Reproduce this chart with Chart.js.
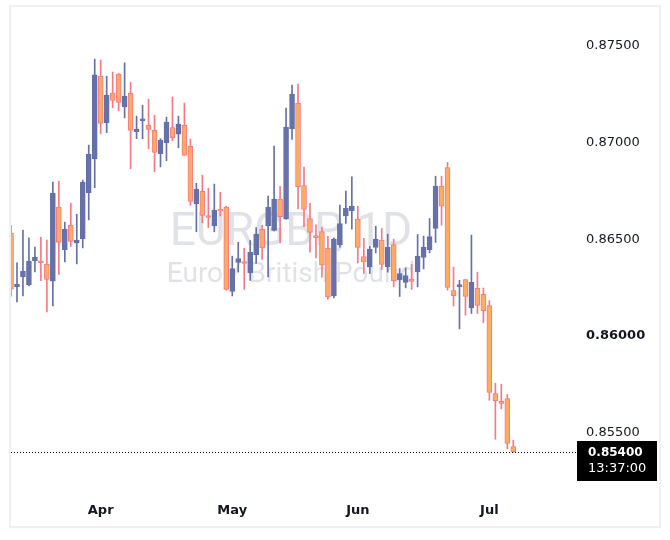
<!DOCTYPE html>
<html>
<head>
<meta charset="utf-8">
<script src="https://cdn.jsdelivr.net/npm/chart.js@4.4.0/dist/chart.umd.min.js"></script>
<style>
  html, body { margin: 0; padding: 0; background: #ffffff; }
  #wrap { width: 670px; height: 540px; }
</style>
</head>
<body>
<div id="wrap"><canvas id="candleChart" width="670" height="540"></canvas></div>
<script>
// daily candles, mid March -> early July
const opens = [
  0.86531, 0.86253, 0.86305, 0.86263, 0.86388, 0.86381, 0.86370, 0.86283, 0.86666, 0.86445,
  0.86572, 0.86481, 0.86502, 0.86740, 0.86916, 0.87344, 0.87102, 0.87256, 0.87355, 0.87185,
  0.87255, 0.87056, 0.87113, 0.87089, 0.87063, 0.86942, 0.86999, 0.87078, 0.87043, 0.87089,
  0.86980, 0.86683, 0.86747, 0.86619, 0.86569, 0.86653, 0.86666, 0.86229, 0.86379, 0.86377,
  0.86325, 0.86419, 0.86552, 0.86569, 0.86545, 0.86707, 0.86603, 0.87072, 0.87205, 0.86777,
  0.86607, 0.86513, 0.86539, 0.86453, 0.86206, 0.86472, 0.86620, 0.86647, 0.86604, 0.86410,
  0.86356, 0.86457, 0.86495, 0.86356, 0.86472, 0.86289, 0.86276, 0.86293, 0.86331, 0.86405,
  0.86446, 0.86555, 0.86775, 0.86871, 0.86234, 0.86254, 0.86291, 0.86144, 0.86245, 0.86214,
  0.86156, 0.85701, 0.85655, 0.85675, 0.85426
];
const highs = [
  0.86572, 0.86377, 0.86547, 0.86507, 0.86459, 0.86510, 0.86495, 0.86795, 0.86800, 0.86588,
  0.86686, 0.86629, 0.86806, 0.86987, 0.87432, 0.87427, 0.87344, 0.87365, 0.87358, 0.87413,
  0.87313, 0.87137, 0.87194, 0.87225, 0.87142, 0.87020, 0.87132, 0.87236, 0.87137, 0.87205,
  0.87018, 0.86789, 0.86831, 0.86764, 0.86785, 0.86743, 0.86671, 0.86412, 0.86484, 0.86453,
  0.86493, 0.86560, 0.86571, 0.86723, 0.86982, 0.86774, 0.87179, 0.87298, 0.87303, 0.86873,
  0.86686, 0.86574, 0.86562, 0.86514, 0.86507, 0.86676, 0.86749, 0.86823, 0.86671, 0.86504,
  0.86464, 0.86567, 0.86555, 0.86526, 0.86500, 0.86348, 0.86351, 0.86370, 0.86524, 0.86516,
  0.86607, 0.86826, 0.86826, 0.86897, 0.86355, 0.86287, 0.86291, 0.86521, 0.86329, 0.86247,
  0.86182, 0.85754, 0.85749, 0.85696, 0.85459
];
const lows = [
  0.86205, 0.86175, 0.86206, 0.86258, 0.86331, 0.86285, 0.86123, 0.86154, 0.86317, 0.86382,
  0.86462, 0.86372, 0.86455, 0.86600, 0.86766, 0.87045, 0.87051, 0.87180, 0.87165, 0.87128,
  0.86864, 0.87020, 0.87020, 0.86968, 0.86849, 0.86874, 0.86906, 0.87009, 0.86973, 0.86934,
  0.86675, 0.86538, 0.86584, 0.86560, 0.86538, 0.86620, 0.86236, 0.86206, 0.86329, 0.86240,
  0.86286, 0.86374, 0.86395, 0.86305, 0.86542, 0.86480, 0.86603, 0.87017, 0.86657, 0.86565,
  0.86433, 0.86403, 0.86303, 0.86188, 0.86196, 0.86459, 0.86581, 0.86552, 0.86377, 0.86322,
  0.86322, 0.86429, 0.86343, 0.86329, 0.86253, 0.86203, 0.86248, 0.86240, 0.86253, 0.86346,
  0.86429, 0.86483, 0.86572, 0.86236, 0.86154, 0.86035, 0.86106, 0.86115, 0.86115, 0.86067,
  0.85666, 0.85464, 0.85621, 0.85414, 0.85395
];
const closes = [
  0.86241, 0.86267, 0.86334, 0.86386, 0.86407, 0.86378, 0.86291, 0.86738, 0.86483, 0.86552,
  0.86488, 0.86495, 0.86795, 0.86940, 0.87351, 0.87099, 0.87246, 0.87218, 0.87208, 0.87241,
  0.87063, 0.87070, 0.87117, 0.87068, 0.86949, 0.87013, 0.87106, 0.87026, 0.87096, 0.86934,
  0.86695, 0.86758, 0.86623, 0.86612, 0.86650, 0.86645, 0.86240, 0.86348, 0.86400, 0.86374,
  0.86433, 0.86526, 0.86454, 0.86666, 0.86707, 0.86616, 0.87080, 0.87251, 0.86772, 0.86654,
  0.86535, 0.86508, 0.86365, 0.86201, 0.86500, 0.86581, 0.86659, 0.86671, 0.86457, 0.86382,
  0.86448, 0.86500, 0.86369, 0.86459, 0.86285, 0.86322, 0.86312, 0.86281, 0.86412, 0.86459,
  0.86513, 0.86775, 0.86671, 0.86250, 0.86208, 0.86259, 0.86203, 0.86276, 0.86157, 0.86130,
  0.85706, 0.85664, 0.85650, 0.85443, 0.85400
];

const monthTickIdx = [15, 37, 58, 80];
const monthTickLabels = ["Apr", "May", "Jun", "Jul"];
const priceTicks = [0.855, 0.86, 0.865, 0.87, 0.875];
const boldPrice = 0.86;
const lastTime = "13:37:00";
const symbolTitle = "EURGBP, 1D";
const symbolName = "Euro / British Pound";

const UP = "#6571a8";
const DOWN_FILL = "#ffab63";
const DOWN_LINE = "#f57a83";
const TEXT = "#131722";

const isUp = (i) => closes[i] >= opens[i];

const watermark = {
  id: "watermark",
  beforeDatasetsDraw(chart) {
    const { ctx, chartArea } = chart;
    const cx = (chartArea.left + chartArea.right) / 2;
    ctx.save();
    ctx.fillStyle = "rgba(205, 207, 215, 0.6)";
    ctx.textAlign = "center";
    ctx.textBaseline = "alphabetic";
    ctx.font = "46px Roboto";
    ctx.fillText(symbolTitle, cx, chartArea.top + 238);
    ctx.font = "28px Roboto";
    ctx.fillText(symbolName, cx, chartArea.top + 275);
    ctx.restore();
  },
};

const lastPrice = {
  id: "lastPrice",
  afterDraw(chart) {
    const { ctx, chartArea } = chart;
    const y = chart.scales.y.getPixelForValue(closes[closes.length - 1]);
    ctx.save();
    // dotted price line
    ctx.strokeStyle = "#000000";
    ctx.lineWidth = 1;
    ctx.setLineDash([1, 2]);
    ctx.beginPath();
    ctx.moveTo(chartArea.left, Math.round(y) + 0.5);
    ctx.lineTo(chartArea.right + 5, Math.round(y) + 0.5);
    ctx.stroke();
    ctx.setLineDash([]);
    // label box
    ctx.fillStyle = "#000000";
    ctx.fillRect(577, Math.round(y) - 11, 80, 40);
    ctx.fillStyle = "#ffffff";
    ctx.textAlign = "left";
    ctx.textBaseline = "middle";
    ctx.font = "bold 12px 'DejaVu Sans'";
    ctx.fillText(closes[closes.length - 1].toFixed(5), 588, y + 1);
    ctx.font = "13px 'DejaVu Sans'";
    ctx.fillText(lastTime, 588, y + 17);
    // frame
    ctx.strokeStyle = "#f0f0f0";
    ctx.lineWidth = 2;
    ctx.strokeRect(10, 6, 650, 521);
    ctx.restore();
  },
};

const createChart = () => {
  const ctx = document.getElementById("candleChart").getContext("2d");
  new Chart(ctx, {
    type: "bar",
    data: {
      datasets: [
        {
          label: "body",
          data: opens.map((o, i) => ({ x: i, y: [o, closes[i]] })),
          backgroundColor: opens.map((o, i) => (isUp(i) ? UP : DOWN_FILL)),
          borderColor: opens.map((o, i) => (isUp(i) ? UP : DOWN_LINE)),
          borderWidth: 1,
          borderSkipped: false,
          barThickness: 5,
          minBarLength: 2,
          grouped: false,
        },
        {
          label: "wick",
          data: highs.map((h, i) => ({ x: i, y: [lows[i], h] })),
          backgroundColor: highs.map((h, i) => (isUp(i) ? UP : DOWN_LINE)),
          borderWidth: 0,
          barThickness: 1,
          grouped: false,
        },
      ],
    },
    options: {
      responsive: false,
      animation: false,
      layout: { padding: { left: 11, top: 7, right: 11, bottom: 14 } },
      plugins: {
        legend: { display: false },
        tooltip: { enabled: false },
      },
      scales: {
        x: {
          type: "linear",
          offset: false,
          min: 0,
          max: 93.65,
          grid: { display: false, drawTicks: false },
          border: { display: false },
          afterBuildTicks: (scale) => {
            scale.ticks = monthTickIdx.map((v) => ({ value: v }));
          },
          afterFit: (scale) => {
            scale.height = 29;
            scale.paddingLeft = 0;
            scale.paddingRight = 0;
          },
          ticks: {
            autoSkip: false,
            maxRotation: 0,
            padding: 6,
            color: TEXT,
            font: { family: "DejaVu Sans", size: 13, weight: "bold" },
            callback: (value) => {
              const k = monthTickIdx.indexOf(value);
              return k >= 0 ? monthTickLabels[k] : "";
            },
          },
        },
        y: {
          type: "linear",
          position: "right",
          min: 0.85165,
          max: 0.87702,
          grid: { display: false, drawTicks: false },
          border: { display: false },
          afterBuildTicks: (scale) => {
            scale.ticks = priceTicks.map((v) => ({ value: v }));
          },
          afterFit: (scale) => {
            scale.width = 88;
            scale.paddingTop = 0;
            scale.paddingBottom = 0;
          },
          ticks: {
            padding: 15,
            color: TEXT,
            font: (c) => ({
              family: "DejaVu Sans",
              size: 13,
              weight: c.tick && c.tick.value === boldPrice ? "bold" : "normal",
            }),
            callback: (value) => value.toFixed(5),
          },
        },
      },
    },
    plugins: [watermark, lastPrice],
  });
};

document.addEventListener("DOMContentLoaded", () => {
  createChart();
});
</script>
</body>
</html>
